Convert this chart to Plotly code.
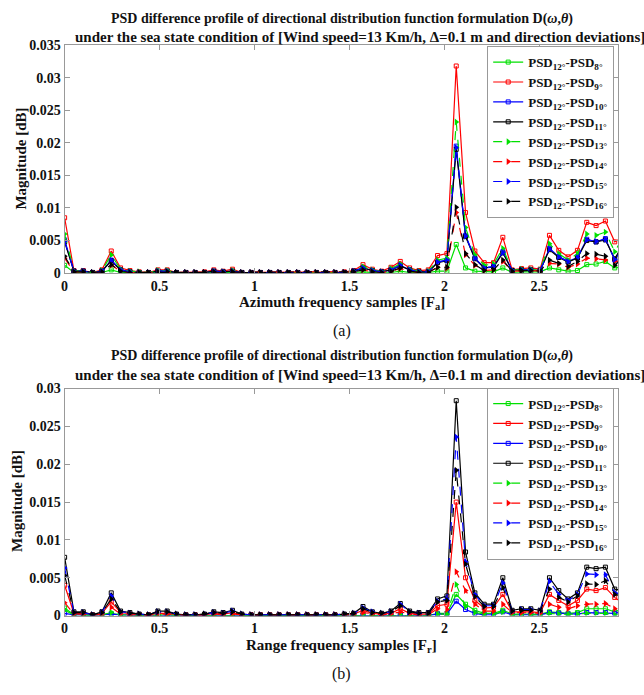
import plotly.graph_objects as go

N_SAMPLES = 61
X_STEP = 0.0491
x = [round(i * X_STEP, 4) for i in range(N_SAMPLES)]

# ---------- (a) Azimuth ----------
T8 = ([0.0012, 0.0001, 0.0001, 0.0000, 0.0001, 0.0005, 0.0001, 0.0001, 0.0000, 0.0000] +
      [0.0001, 0.0001, 0.0000, 0.0000, 0.0000, 0.0000, 0.0001, 0.0001, 0.0001, 0.0000] +
      [0.0000, 0.0000, 0.0000, 0.0000, 0.0000, 0.0000, 0.0000, 0.0000, 0.0000, 0.0000] +
      [0.0000, 0.0001, 0.0002, 0.0001, 0.0000, 0.0001, 0.0003, 0.0001, 0.0001, 0.0001] +
      [0.0003, 0.0003, 0.0044, 0.0008, 0.0003, 0.0002, 0.0002, 0.0008, 0.0001, 0.0002] +
      [0.0002, 0.0002, 0.0008, 0.0005, 0.0003, 0.0004, 0.0013, 0.0014, 0.0018, 0.0008] +
      [0.0010])
T9 = ([0.0085, 0.0004, 0.0004, 0.0001, 0.0005, 0.0034, 0.0008, 0.0004, 0.0002, 0.0001] +
      [0.0005, 0.0005, 0.0001, 0.0001, 0.0001, 0.0002, 0.0005, 0.0003, 0.0006, 0.0001] +
      [0.0001, 0.0001, 0.0001, 0.0001, 0.0001, 0.0001, 0.0001, 0.0001, 0.0001, 0.0001] +
      [0.0002, 0.0004, 0.0013, 0.0006, 0.0003, 0.0009, 0.0018, 0.0008, 0.0004, 0.0005] +
      [0.0027, 0.0030, 0.0318, 0.0093, 0.0034, 0.0016, 0.0016, 0.0055, 0.0005, 0.0007] +
      [0.0008, 0.0006, 0.0058, 0.0035, 0.0025, 0.0035, 0.0078, 0.0073, 0.0080, 0.0048] +
      [0.0056])
T10 = ([0.0051, 0.0003, 0.0003, 0.0001, 0.0003, 0.0020, 0.0005, 0.0002, 0.0001, 0.0001] +
       [0.0003, 0.0003, 0.0001, 0.0001, 0.0001, 0.0001, 0.0003, 0.0002, 0.0003, 0.0001] +
       [0.0001, 0.0001, 0.0001, 0.0001, 0.0001, 0.0001, 0.0001, 0.0001, 0.0001, 0.0001] +
       [0.0001, 0.0003, 0.0008, 0.0004, 0.0002, 0.0005, 0.0012, 0.0005, 0.0002, 0.0002] +
       [0.0017, 0.0020, 0.0195, 0.0058, 0.0023, 0.0008, 0.0010, 0.0033, 0.0004, 0.0005] +
       [0.0005, 0.0004, 0.0038, 0.0025, 0.0018, 0.0024, 0.0052, 0.0048, 0.0053, 0.0020] +
       [0.0042])
T11 = ([0.0048, 0.0003, 0.0003, 0.0001, 0.0003, 0.0019, 0.0005, 0.0002, 0.0001, 0.0001] +
       [0.0003, 0.0003, 0.0001, 0.0001, 0.0001, 0.0001, 0.0003, 0.0002, 0.0003, 0.0001] +
       [0.0001, 0.0001, 0.0001, 0.0001, 0.0001, 0.0001, 0.0001, 0.0001, 0.0001, 0.0001] +
       [0.0001, 0.0003, 0.0008, 0.0004, 0.0002, 0.0005, 0.0011, 0.0005, 0.0002, 0.0002] +
       [0.0016, 0.0019, 0.0190, 0.0056, 0.0022, 0.0008, 0.0009, 0.0031, 0.0004, 0.0005] +
       [0.0005, 0.0004, 0.0036, 0.0024, 0.0017, 0.0023, 0.0050, 0.0048, 0.0051, 0.0022] +
       [0.0047])
T13 = ([0.0060, 0.0003, 0.0003, 0.0001, 0.0004, 0.0028, 0.0006, 0.0003, 0.0002, 0.0001] +
       [0.0004, 0.0004, 0.0001, 0.0001, 0.0001, 0.0001, 0.0003, 0.0002, 0.0004, 0.0001] +
       [0.0001, 0.0001, 0.0001, 0.0001, 0.0001, 0.0001, 0.0001, 0.0001, 0.0001, 0.0001] +
       [0.0001, 0.0003, 0.0010, 0.0005, 0.0002, 0.0007, 0.0014, 0.0006, 0.0003, 0.0003] +
       [0.0020, 0.0023, 0.0232, 0.0070, 0.0028, 0.0012, 0.0014, 0.0038, 0.0004, 0.0006] +
       [0.0006, 0.0005, 0.0045, 0.0030, 0.0020, 0.0030, 0.0060, 0.0058, 0.0063, 0.0033] +
       [0.0058])
T14 = ([0.0023, 0.0002, 0.0002, 0.0001, 0.0002, 0.0012, 0.0003, 0.0001, 0.0001, 0.0001] +
       [0.0002, 0.0002, 0.0001, 0.0001, 0.0001, 0.0001, 0.0002, 0.0001, 0.0002, 0.0001] +
       [0.0001, 0.0001, 0.0001, 0.0001, 0.0001, 0.0001, 0.0001, 0.0001, 0.0001, 0.0001] +
       [0.0001, 0.0002, 0.0005, 0.0002, 0.0001, 0.0003, 0.0007, 0.0003, 0.0001, 0.0001] +
       [0.0009, 0.0008, 0.0093, 0.0028, 0.0012, 0.0004, 0.0005, 0.0018, 0.0003, 0.0004] +
       [0.0004, 0.0003, 0.0015, 0.0014, 0.0009, 0.0014, 0.0023, 0.0022, 0.0020, 0.0018] +
       [0.0017])
T15 = ([0.0049, 0.0003, 0.0003, 0.0001, 0.0003, 0.0020, 0.0005, 0.0002, 0.0001, 0.0001] +
       [0.0003, 0.0003, 0.0001, 0.0001, 0.0001, 0.0001, 0.0003, 0.0002, 0.0003, 0.0001] +
       [0.0001, 0.0001, 0.0001, 0.0001, 0.0001, 0.0001, 0.0001, 0.0001, 0.0001, 0.0001] +
       [0.0001, 0.0003, 0.0008, 0.0004, 0.0002, 0.0005, 0.0012, 0.0005, 0.0002, 0.0002] +
       [0.0017, 0.0020, 0.0193, 0.0057, 0.0023, 0.0008, 0.0010, 0.0032, 0.0004, 0.0005] +
       [0.0005, 0.0004, 0.0037, 0.0025, 0.0018, 0.0024, 0.0051, 0.0049, 0.0052, 0.0021] +
       [0.0040])
T16 = ([0.0026, 0.0002, 0.0002, 0.0001, 0.0002, 0.0013, 0.0003, 0.0001, 0.0001, 0.0001] +
       [0.0002, 0.0002, 0.0001, 0.0001, 0.0001, 0.0001, 0.0002, 0.0001, 0.0002, 0.0001] +
       [0.0001, 0.0001, 0.0001, 0.0001, 0.0001, 0.0001, 0.0001, 0.0001, 0.0001, 0.0001] +
       [0.0001, 0.0002, 0.0005, 0.0002, 0.0001, 0.0003, 0.0008, 0.0003, 0.0001, 0.0001] +
       [0.0009, 0.0009, 0.0101, 0.0030, 0.0013, 0.0004, 0.0005, 0.0020, 0.0003, 0.0004] +
       [0.0004, 0.0003, 0.0020, 0.0015, 0.0010, 0.0018, 0.0030, 0.0029, 0.0026, 0.0012] +
       [0.0025])

# ---------- (b) Range ----------
B8 = ([0.0010, 0.0001, 0.0001, 0.0000, 0.0001, 0.0003, 0.0001, 0.0000, 0.0000, 0.0000] +
      [0.0001, 0.0001, 0.0000, 0.0000, 0.0000, 0.0000, 0.0001, 0.0000, 0.0001, 0.0000] +
      [0.0000, 0.0000, 0.0000, 0.0000, 0.0000, 0.0000, 0.0000, 0.0000, 0.0000, 0.0000] +
      [0.0000, 0.0000, 0.0001, 0.0000, 0.0000, 0.0001, 0.0001, 0.0001, 0.0000, 0.0000] +
      [0.0003, 0.0003, 0.0028, 0.0015, 0.0007, 0.0003, 0.0003, 0.0007, 0.0002, 0.0002] +
      [0.0002, 0.0002, 0.0005, 0.0004, 0.0003, 0.0004, 0.0009, 0.0009, 0.0009, 0.0005] +
      [0.0010])
B9 = ([0.0040, 0.0003, 0.0003, 0.0001, 0.0003, 0.0018, 0.0004, 0.0002, 0.0001, 0.0001] +
      [0.0003, 0.0003, 0.0001, 0.0001, 0.0001, 0.0001, 0.0003, 0.0002, 0.0004, 0.0001] +
      [0.0001, 0.0001, 0.0001, 0.0001, 0.0001, 0.0001, 0.0001, 0.0001, 0.0001, 0.0001] +
      [0.0001, 0.0002, 0.0007, 0.0003, 0.0002, 0.0003, 0.0009, 0.0003, 0.0002, 0.0002] +
      [0.0013, 0.0015, 0.0150, 0.0050, 0.0020, 0.0010, 0.0011, 0.0028, 0.0005, 0.0005] +
      [0.0005, 0.0004, 0.0028, 0.0020, 0.0013, 0.0020, 0.0035, 0.0033, 0.0037, 0.0024] +
      [0.0015])
B10 = ([0.0003, 0.0001, 0.0001, 0.0000, 0.0001, 0.0002, 0.0001, 0.0000, 0.0000, 0.0000] +
       [0.0000, 0.0000, 0.0000, 0.0000, 0.0000, 0.0000, 0.0000, 0.0000, 0.0000, 0.0000] +
       [0.0000, 0.0000, 0.0000, 0.0000, 0.0000, 0.0000, 0.0000, 0.0000, 0.0000, 0.0000] +
       [0.0000, 0.0000, 0.0001, 0.0000, 0.0000, 0.0000, 0.0001, 0.0000, 0.0000, 0.0000] +
       [0.0002, 0.0002, 0.0019, 0.0008, 0.0003, 0.0001, 0.0001, 0.0005, 0.0001, 0.0001] +
       [0.0001, 0.0001, 0.0004, 0.0003, 0.0002, 0.0002, 0.0004, 0.0004, 0.0004, 0.0003] +
       [0.0006])
B11 = ([0.0077, 0.0005, 0.0005, 0.0001, 0.0005, 0.0030, 0.0006, 0.0004, 0.0002, 0.0001] +
       [0.0006, 0.0006, 0.0002, 0.0001, 0.0001, 0.0002, 0.0005, 0.0004, 0.0007, 0.0002] +
       [0.0001, 0.0001, 0.0001, 0.0001, 0.0001, 0.0001, 0.0001, 0.0001, 0.0001, 0.0001] +
       [0.0002, 0.0003, 0.0012, 0.0005, 0.0003, 0.0006, 0.0016, 0.0006, 0.0004, 0.0004] +
       [0.0022, 0.0026, 0.0284, 0.0084, 0.0030, 0.0015, 0.0015, 0.0050, 0.0007, 0.0009] +
       [0.0009, 0.0007, 0.0050, 0.0033, 0.0022, 0.0030, 0.0064, 0.0062, 0.0064, 0.0035] +
       [0.0033])
B13 = ([0.0007, 0.0001, 0.0001, 0.0000, 0.0001, 0.0004, 0.0001, 0.0000, 0.0000, 0.0000] +
       [0.0001, 0.0001, 0.0000, 0.0000, 0.0000, 0.0000, 0.0000, 0.0000, 0.0001, 0.0000] +
       [0.0000, 0.0000, 0.0000, 0.0000, 0.0000, 0.0000, 0.0000, 0.0000, 0.0000, 0.0000] +
       [0.0000, 0.0000, 0.0001, 0.0000, 0.0000, 0.0000, 0.0001, 0.0000, 0.0000, 0.0000] +
       [0.0002, 0.0002, 0.0041, 0.0012, 0.0004, 0.0002, 0.0002, 0.0005, 0.0001, 0.0001] +
       [0.0001, 0.0001, 0.0003, 0.0002, 0.0002, 0.0002, 0.0003, 0.0003, 0.0003, 0.0001] +
       [0.0001])
B14 = ([0.0017, 0.0002, 0.0002, 0.0000, 0.0002, 0.0011, 0.0002, 0.0001, 0.0001, 0.0000] +
       [0.0002, 0.0002, 0.0001, 0.0000, 0.0000, 0.0001, 0.0002, 0.0001, 0.0002, 0.0001] +
       [0.0001, 0.0001, 0.0001, 0.0001, 0.0001, 0.0001, 0.0001, 0.0001, 0.0001, 0.0001] +
       [0.0001, 0.0001, 0.0004, 0.0002, 0.0001, 0.0002, 0.0005, 0.0002, 0.0001, 0.0001] +
       [0.0009, 0.0008, 0.0058, 0.0033, 0.0015, 0.0006, 0.0006, 0.0015, 0.0004, 0.0004] +
       [0.0004, 0.0003, 0.0015, 0.0011, 0.0009, 0.0013, 0.0015, 0.0015, 0.0016, 0.0009] +
       [0.0010])
B15 = ([0.0063, 0.0004, 0.0004, 0.0001, 0.0004, 0.0026, 0.0005, 0.0003, 0.0002, 0.0001] +
       [0.0005, 0.0005, 0.0002, 0.0001, 0.0001, 0.0002, 0.0004, 0.0003, 0.0006, 0.0002] +
       [0.0001, 0.0001, 0.0001, 0.0001, 0.0001, 0.0001, 0.0001, 0.0001, 0.0001, 0.0001] +
       [0.0002, 0.0003, 0.0010, 0.0005, 0.0003, 0.0005, 0.0015, 0.0005, 0.0003, 0.0003] +
       [0.0019, 0.0022, 0.0236, 0.0071, 0.0028, 0.0013, 0.0013, 0.0043, 0.0006, 0.0008] +
       [0.0008, 0.0006, 0.0045, 0.0028, 0.0020, 0.0028, 0.0055, 0.0054, 0.0054, 0.0030] +
       [0.0028])
B16 = ([0.0053, 0.0004, 0.0004, 0.0001, 0.0004, 0.0022, 0.0005, 0.0003, 0.0002, 0.0001] +
       [0.0005, 0.0005, 0.0002, 0.0001, 0.0001, 0.0002, 0.0004, 0.0003, 0.0005, 0.0002] +
       [0.0001, 0.0001, 0.0001, 0.0001, 0.0001, 0.0001, 0.0001, 0.0001, 0.0001, 0.0001] +
       [0.0002, 0.0003, 0.0009, 0.0004, 0.0003, 0.0005, 0.0013, 0.0005, 0.0003, 0.0003] +
       [0.0018, 0.0020, 0.0192, 0.0068, 0.0025, 0.0012, 0.0012, 0.0037, 0.0006, 0.0007] +
       [0.0007, 0.0006, 0.0035, 0.0024, 0.0018, 0.0026, 0.0042, 0.0041, 0.0046, 0.0028] +
       [0.0025])

LABEL_ANGLES = ["8", "9", "10", "11", "13", "14", "15", "16"]
COLORS = ["#00e000", "#ff0000", "#0000ff", "#000000", "#00e000", "#ff0000", "#0000ff", "#000000"]
TOP = [T8, T9, T10, T11, T13, T14, T15, T16]
BOT = [B8, B9, B10, B11, B13, B14, B15, B16]

X_TICKS = [0, 0.5, 1, 1.5, 2, 2.5]
X_TICKTEXT = ["0", "0.5", "1", "1.5", "2", "2.5"]
Y_TICKS_TOP = [0, 0.005, 0.01, 0.015, 0.02, 0.025, 0.03, 0.035]
Y_TICKTEXT_TOP = ["0", "0.005", "0.01", "0.015", "0.02", "0.025", "0.03", "0.035"]
Y_TICKS_BOT = [0, 0.005, 0.01, 0.015, 0.02, 0.025, 0.03]
Y_TICKTEXT_BOT = ["0", "0.005", "0.01", "0.015", "0.02", "0.025", "0.03"]

FONT = "Liberation Serif, Times New Roman, serif"
W, H = 644, 695


def px_x(p):
    return p / W


def px_y(p):
    return 1 - p / H


def bold(lst):
    return ["<b>%s</b>" % t for t in lst]


fig = go.Figure()

for series, xa, ya, lg in [(TOP, "x", "y", "legend"), (BOT, "x2", "y2", "legend2")]:
    for k, ys in enumerate(series):
        solid = k < 4
        name = "<b>PSD<sub>12°</sub>-PSD<sub>%s°</sub></b>" % LABEL_ANGLES[k]
        fig.add_trace(go.Scatter(
            x=x, y=ys, xaxis=xa, yaxis=ya, legend=lg, name=name,
            mode="lines+markers",
            line=dict(color=COLORS[k], width=1.2, dash="solid" if solid else "dash"),
            marker=dict(symbol="square-open" if solid else "triangle-right",
                        size=4 if solid else 6, color=COLORS[k],
                        line=dict(width=1 if solid else 0, color=COLORS[k])),
        ))

x_dom = [px_x(61), px_x(618)]
axis_common = dict(showline=True, linecolor="#999999", linewidth=1, mirror="ticks",
                   ticks="inside", ticklen=5, tickcolor="#999999", showgrid=False,
                   zeroline=False, tickfont=dict(family=FONT, size=14, color="#111"))

legend_common = dict(xanchor="right", yanchor="top", bgcolor="white",
                     bordercolor="#999999", borderwidth=1,
                     font=dict(family=FONT, size=13, color="#111"),
                     tracegroupgap=0, itemwidth=30)

fig.update_layout(
    width=W, height=H,
    margin=dict(l=0, r=0, t=0, b=0),
    paper_bgcolor="white", plot_bgcolor="white",
    font=dict(family=FONT, color="#111"),
    xaxis=dict(domain=x_dom, range=[0, 2.915], tickvals=X_TICKS, ticktext=bold(X_TICKTEXT),
               anchor="y", **axis_common),
    yaxis=dict(domain=[px_y(272), px_y(39)], range=[0, 0.035], tickvals=Y_TICKS_TOP,
               ticktext=bold(Y_TICKTEXT_TOP), anchor="x", **axis_common),
    xaxis2=dict(domain=x_dom, range=[0, 2.915], tickvals=X_TICKS, ticktext=bold(X_TICKTEXT),
                anchor="y2", **axis_common),
    yaxis2=dict(domain=[px_y(622), px_y(390)], range=[0, 0.03], tickvals=Y_TICKS_BOT,
                ticktext=bold(Y_TICKTEXT_BOT), anchor="x2", **axis_common),
    legend=dict(x=px_x(614), y=px_y(40), **legend_common),
    legend2=dict(x=px_x(614), y=px_y(389), **legend_common),
    showlegend=True,
)

TITLE1 = "<b>PSD difference profile of directional distribution function formulation D(<i>ω</i>,<i>θ</i>)</b>"
TITLE2 = "<b>under the sea state condition of [Wind speed=13 Km/h, Δ=0.1 m and direction deviations]</b>"

ann = []


def add_text(text, xp, yp, size, angle=0):
    ann.append(dict(text=text, x=px_x(xp), y=px_y(yp), xref="paper", yref="paper",
                    showarrow=False, xanchor="center", yanchor="middle", textangle=angle,
                    font=dict(family=FONT, size=size, color="#111")))


add_text(TITLE1, 340, 12, 14)
add_text(TITLE2, 358, 31, 15)
add_text("<b>Azimuth frequency samples [F<sub>a</sub>]</b>", 340, 303, 15)
add_text("(a)", 340, 331, 16)
add_text("<b>Magnitude [dB]</b>", 17, 155, 15, -90)

add_text(TITLE1, 340, 357, 14)
add_text(TITLE2, 358, 376, 15)
add_text("<b>Range frequency samples [F<sub>r</sub>]</b>", 340, 653, 15)
add_text("(b)", 340, 682, 16)
add_text("<b>Magnitude [dB]</b>", 13, 505, 15, -90)

fig.update_layout(annotations=ann)

fig.write_html("out.html")
